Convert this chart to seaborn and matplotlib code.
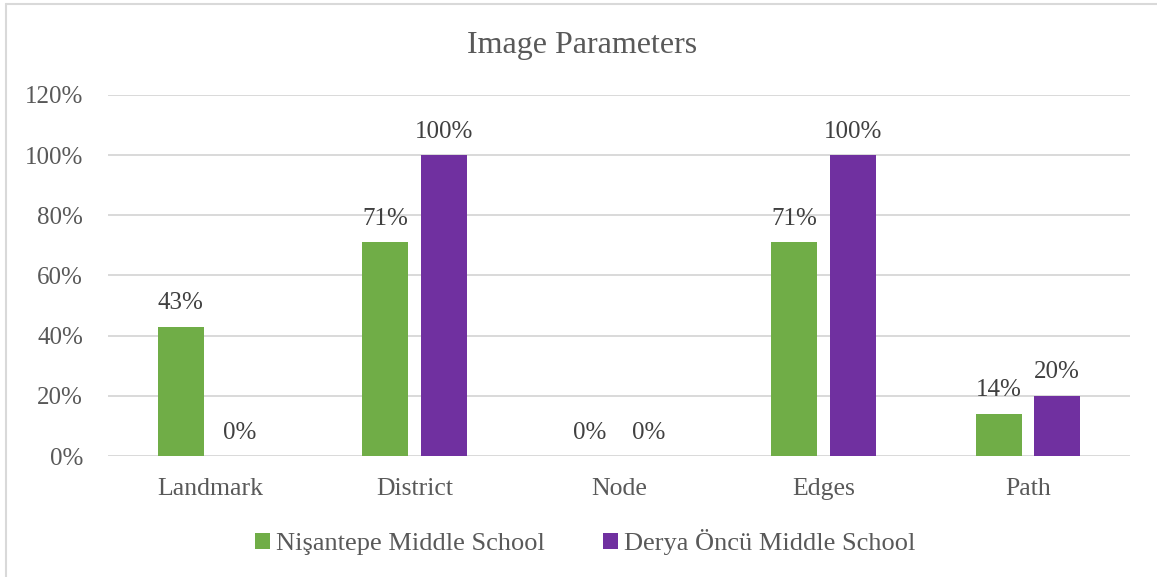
import matplotlib
matplotlib.use("Agg")
import matplotlib.pyplot as plt
from matplotlib.lines import Line2D
from matplotlib.patches import Patch
import seaborn as sns
import pandas as pd

categories = ["Landmark", "District", "Node", "Edges", "Path"]
series_names = ["Nişantepe Middle School", "Derya Öncü Middle School"]
nisantepe = [0.43, 0.71, 0.0, 0.71, 0.14]
derya = [0.0, 1.00, 0.0, 1.00, 0.20]
y_ticks = [0.0, 0.2, 0.4, 0.6, 0.8, 1.0, 1.2]
colors = ["#70AD47", "#7030A0"]

df = pd.DataFrame({
    "category": categories * 2,
    "school": [series_names[0]] * len(categories) + [series_names[1]] * len(categories),
    "value": nisantepe + derya,
})

sns.set_theme(style="white")
plt.rcParams["font.family"] = ["Liberation Serif", "DejaVu Serif"]
text_color = "#595959"
grid_color = "#D9D9D9"

fig = plt.figure(figsize=(11.57, 5.77), dpi=100)
ax = fig.add_axes([0.0933, 0.2097, 0.8834, 0.6257])

sns.barplot(data=df, x="category", y="value", hue="school", order=categories,
            hue_order=series_names, palette=colors, width=0.572, gap=0.214,
            saturation=1, legend=False, edgecolor="none", linewidth=0,
            ax=ax, zorder=3)

ax.set_ylim(0, 1.2)
ax.set_xlim(-0.5, len(categories) - 0.5)
ax.set_yticks(y_ticks)
ax.set_yticklabels([f"{t:.0%}" for t in y_ticks])
ax.set_xlabel("")
ax.set_ylabel("")
for y in y_ticks:
    ax.axhline(y, color=grid_color, lw=1.4, zorder=1)
for s in ax.spines.values():
    s.set_visible(False)
ax.tick_params(axis="y", length=0, pad=18, labelsize=18, labelcolor=text_color)
ax.tick_params(axis="x", length=0, pad=16, labelsize=18.5, labelcolor=text_color)

for cont, vals in zip(ax.containers, [nisantepe, derya]):
    ax.bar_label(cont, labels=[f"{v:.0%}" for v in vals], padding=9,
                 fontsize=18, color="#404040")

fig.text(0.503, 0.922, "Image Parameters", ha="center", va="center",
         fontsize=23, color=text_color)

handles = [Patch(facecolor=c, edgecolor="none") for c in colors]
fig.legend(handles, series_names, loc="center", bbox_to_anchor=(0.506, 0.060),
           ncol=2, frameon=False, fontsize=19, labelcolor=text_color,
           handlelength=0.55, handleheight=0.55, handletextpad=0.25,
           columnspacing=2.2)

# thin frame along the top and left of the chart area
fig.add_artist(Line2D([0.0052, 0.0052], [0, 0.993], color="#D9D9D9", lw=1.5,
                      transform=fig.transFigure))
fig.add_artist(Line2D([0.0052, 1.0], [0.993, 0.993], color="#D9D9D9", lw=1.5,
                      transform=fig.transFigure))

fig.savefig("out.png", dpi=100, facecolor="white")
